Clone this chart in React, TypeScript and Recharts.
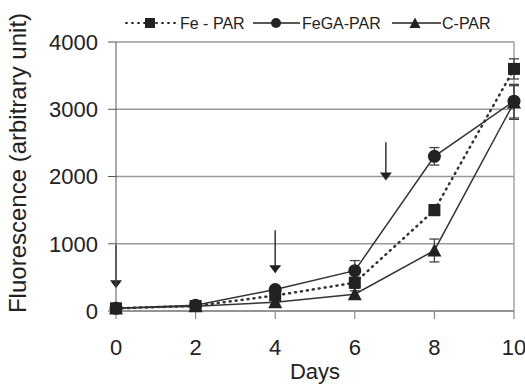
import React from 'react';
import {
  LineChart, Line, XAxis, YAxis, CartesianGrid, ReferenceLine, ErrorBar,
} from 'recharts';

const days = [0, 2, 4, 6, 8, 10];
const fePar = [40, 75, 230, 420, 1500, 3600];
const fePeErr = [0, 0, 40, 80, 80, 150];
const fegaPar = [40, 85, 320, 600, 2300, 3120];
const fegaErr = [0, 0, 50, 150, 130, 250];
const cPar = [40, 70, 130, 250, 900, 3100];
const cErr = [0, 0, 30, 50, 170, 250];

const yTicks = [0, 1000, 2000, 3000, 4000];
const xTicks = [0, 2, 4, 6, 8, 10];

// treatment arrows: day, start value, tip value
const arrows = [
  { day: 0, from: 980, to: 340 },
  { day: 4, from: 1200, to: 560 },
  { day: 6.78, from: 2510, to: 1940 },
];

const data = days.map((d, i) => ({
  day: d,
  fe: fePar[i], feErr: fePeErr[i],
  fega: fegaPar[i], fegaErr: fegaErr[i],
  c: cPar[i], cErr: cErr[i],
}));

const INK = '#222';
const FONT = '"Liberation Sans", Arial, sans-serif';

const Square = (props: any) => {
  const { cx, cy } = props;
  return <rect x={cx - 6} y={cy - 6} width={12} height={12} fill={INK} />;
};
const Dot = (props: any) => {
  const { cx, cy } = props;
  return <circle cx={cx} cy={cy} r={6.5} fill={INK} />;
};
const Tri = (props: any) => {
  const { cx, cy } = props;
  return <polygon points={`${cx},${cy - 7} ${cx - 7},${cy + 6} ${cx + 7},${cy + 6}`} fill={INK} />;
};

const Arrow = (props: any) => {
  const { x1, y1, x2, y2 } = props;
  return (
    <g>
      <line x1={x1} y1={y1} x2={x2} y2={y2 - 6} stroke="#333" strokeWidth={1.5} />
      <polygon points={`${x2 - 6},${y2 - 8} ${x2 + 6},${y2 - 8} ${x2},${y2}`} fill="#222" />
    </g>
  );
};

function LegendBox() {
  return (
    <svg width={525} height={40} style={{ position: 'absolute', left: 0, top: 0 }}>
      <g fontFamily={FONT} fontSize={16} fill={INK}>
        <line x1={126} y1={23} x2={175} y2={23} stroke={INK} strokeWidth={1.8} strokeDasharray="1 5" strokeLinecap="round" />
        <rect x={145} y={18} width={10} height={10} fill={INK} />
        <text x={180} y={29}>Fe - PAR</text>
        <line x1={253} y1={23} x2={300} y2={23} stroke={INK} strokeWidth={1.3} />
        <circle cx={276} cy={23} r={5} fill={INK} />
        <text x={302} y={29}>FeGA-PAR</text>
        <line x1={392} y1={23} x2={441} y2={23} stroke={INK} strokeWidth={1.3} />
        <polygon points="415,17.5 409.5,28 420.5,28" fill={INK} />
        <text x={442} y={29}>C-PAR</text>
      </g>
    </svg>
  );
}

const YLabel = () => (
  <text
    x={26}
    y={163}
    transform="rotate(-90 26 163)"
    textAnchor="middle"
    fontFamily={FONT}
    fontSize={24}
    fill={INK}
  >
    Fluorescence (arbitrary unit)
  </text>
);

export default function App() {
  const tick = { fontFamily: FONT, fontSize: 22, fill: INK };
  return (
    <div style={{ position: 'absolute', left: 0, top: 0, width: 525, height: 384, background: '#fff' }}>
      <LineChart width={525} height={384} data={data} margin={{ top: 42, right: 11, bottom: 0, left: 0 }}>
        <CartesianGrid vertical={false} stroke="#999" strokeWidth={1.3} />
        <XAxis
          dataKey="day"
          type="number"
          domain={[0, 10]}
          ticks={xTicks}
          height={73}
          tickSize={8}
          tickMargin={20}
          stroke="#777"
          tick={tick}
          label={{ value: 'Days', position: 'insideBottom', offset: 5, style: { fontFamily: FONT, fontSize: 22, fill: INK } }}
        />
        <YAxis
          type="number"
          domain={[0, 4000]}
          ticks={yTicks}
          width={116}
          tickSize={8}
          tickMargin={10}
          stroke="#555"
          tick={tick}
          label={<YLabel />}
        />
        <ReferenceLine x={10} stroke="#999" strokeWidth={1.3} />
        {arrows.map((a) => (
          <ReferenceLine
            key={a.day}
            segment={[{ x: a.day, y: a.from }, { x: a.day, y: a.to }]}
            shape={<Arrow />}
          />
        ))}
        <Line
          dataKey="c"
          stroke="#333"
          strokeWidth={1.5}
          dot={<Tri />}
          isAnimationActive={false}
        >
          <ErrorBar dataKey="cErr" width={5} stroke="#444" strokeWidth={1.3} />
        </Line>
        <Line
          dataKey="fega"
          stroke="#333"
          strokeWidth={1.5}
          dot={<Dot />}
          isAnimationActive={false}
        >
          <ErrorBar dataKey="fegaErr" width={5} stroke="#444" strokeWidth={1.3} />
        </Line>
        <Line
          dataKey="fe"
          stroke="#333"
          strokeWidth={2.5}
          strokeDasharray="1 5"
          strokeLinecap="round"
          dot={<Square />}
          isAnimationActive={false}
        >
          <ErrorBar dataKey="feErr" width={5} stroke="#444" strokeWidth={1.3} />
        </Line>
      </LineChart>
      <LegendBox />
    </div>
  );
}
